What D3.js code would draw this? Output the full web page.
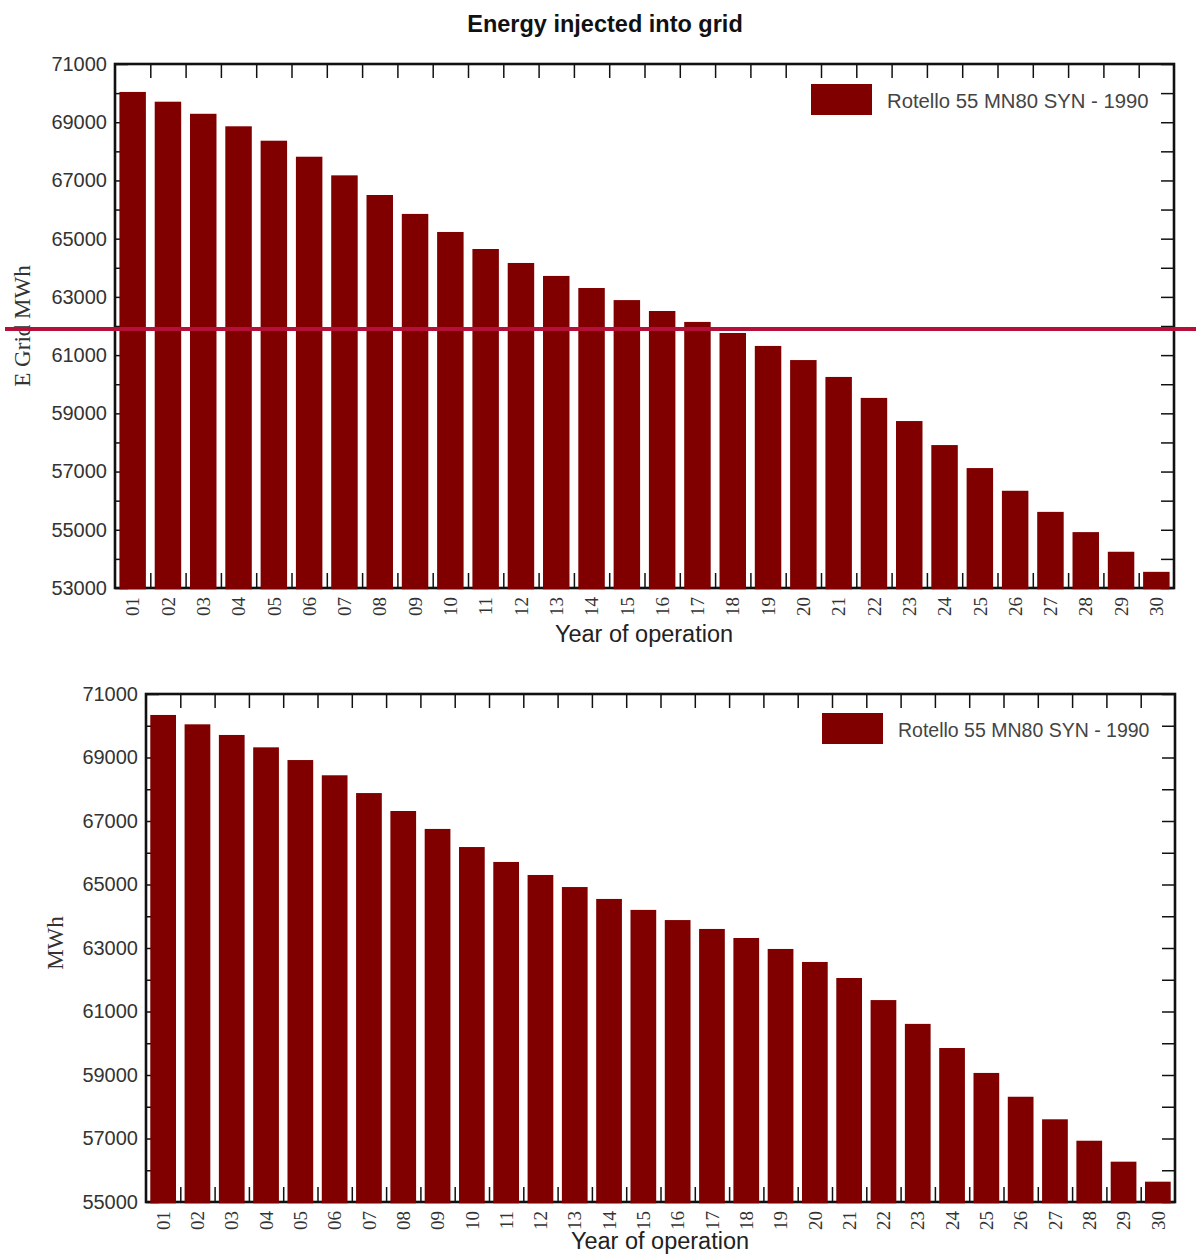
<!DOCTYPE html>
<html>
<head>
<meta charset="utf-8">
<script src="https://cdn.jsdelivr.net/npm/d3@7"></script>
<style>
body { margin: 0; background: #fff; }
svg text { font-family: "Liberation Sans", Arial, sans-serif; }
</style>
</head>
<body>
<svg id="chart" width="1196" height="1256"></svg>
<script>
// years of operation
var years = ["01", "02", "03", "04", "05", "06", "07", "08", "09", "10",
             "11", "12", "13", "14", "15", "16", "17", "18", "19", "20",
             "21", "22", "23", "24", "25", "26", "27", "28", "29", "30"];

// energy injected into grid (MWh), upper chart
var gridEnergy = [70040, 69705, 69290, 68860, 68365, 67815, 67175, 66500, 65850, 65230,
                  64645, 64165, 63720, 63305, 62890, 62515, 62140, 61760, 61315, 60830,
                  60250, 59530, 58735, 57910, 57120, 56340, 55615, 54920, 54245, 53555];

// lower chart (MWh)
var lowerEnergy = [70340, 70045, 69710, 69320, 68920, 68440, 67880, 67315, 66750, 66180,
                   65710, 65300, 64920, 64545, 64200, 63880, 63600, 63315, 62970, 62560,
                   62055, 61360, 60610, 59850, 59065, 58315, 57605, 56930, 56270, 55640];

var gridTicks = [53000, 54000, 55000, 56000, 57000, 58000, 59000, 60000, 61000, 62000,
                 63000, 64000, 65000, 66000, 67000, 68000, 69000, 70000, 71000];
var lowerTicks = [55000, 56000, 57000, 58000, 59000, 60000, 61000, 62000,
                  63000, 64000, 65000, 66000, 67000, 68000, 69000, 70000, 71000];

var seriesName = "Rotello 55 MN80 SYN - 1990";
var markerValue = 61900;   // red line drawn over the upper chart

var svg = d3.select("#chart");
var barColor = "#800000";

svg.append("text")
    .attr("x", 605).attr("y", 32)
    .attr("text-anchor", "middle")
    .style("font-size", "23.5px").style("font-weight", "bold")
    .attr("fill", "#111")
    .text("Energy injected into grid");

function drawPanel(opt) {
    var g = svg.append("g");
    var x = d3.scaleBand().domain(years).range([opt.left, opt.right])
        .paddingInner(0.25).paddingOuter(0.125);
    var xe = d3.scaleLinear().domain([0, years.length]).range([opt.left, opt.right]);
    var y = d3.scaleLinear().domain([opt.ticks[0], opt.ticks[opt.ticks.length - 1]])
        .range([opt.bottom, opt.top]);
    var inner = d3.range(1, years.length);

    var left = g.append("g").attr("transform", "translate(" + opt.left + ",0)")
        .call(d3.axisLeft(y).tickValues(opt.ticks).tickSize(-13).tickPadding(8)
            .tickFormat(function(d) { return (d / 1000) % 2 ? d : ""; }));
    var right = g.append("g").attr("transform", "translate(" + opt.right + ",0)")
        .call(d3.axisRight(y).tickValues(opt.ticks).tickSize(-13).tickFormat(""));
    var top = g.append("g").attr("transform", "translate(0," + opt.top + ")")
        .call(d3.axisTop(xe).tickValues(inner).tickSize(-14).tickFormat(""));
    var bottom = g.append("g").attr("transform", "translate(0," + opt.bottom + ")")
        .call(d3.axisBottom(xe).tickValues(inner).tickSize(-15).tickFormat(""));

    [left, right, top, bottom].forEach(function(a) {
        a.select(".domain").remove();
        a.selectAll(".tick line").attr("stroke", "#111").attr("stroke-width", 1.5);
    });
    left.selectAll("text")
        .style("font-size", "20px")
        .style("font-family", "'Liberation Sans', Arial, sans-serif")
        .attr("fill", "#333");

    g.append("rect")
        .attr("x", opt.left).attr("y", opt.top)
        .attr("width", opt.right - opt.left).attr("height", opt.bottom - opt.top)
        .attr("fill", "none").attr("stroke", "#111").attr("stroke-width", 2.6);

    var data = years.map(function(yr, i) { return { year: yr, value: opt.values[i] }; });
    g.selectAll(".bar").data(data).enter().append("rect")
        .attr("class", "bar")
        .attr("x", function(d) { return x(d.year); })
        .attr("width", x.bandwidth())
        .attr("y", function(d) { return y(d.value); })
        .attr("height", function(d) { return y.range()[0] - y(d.value) + 1.3; })
        .attr("fill", barColor);

    var labels = g.append("g").attr("transform", "translate(0," + opt.bottom + ")")
        .call(d3.axisBottom(x).tickSize(0).tickPadding(0));
    labels.select(".domain").remove();
    labels.selectAll("text")
        .attr("transform", "rotate(-90)")
        .attr("x", -9).attr("y", 0).attr("dy", "0.35em")
        .attr("text-anchor", "end")
        .style("font-family", "'Liberation Serif', 'Times New Roman', serif")
        .style("font-size", "19px")
        .attr("fill", "#333");

    g.append("text")
        .attr("transform", "translate(" + opt.yLabelX + "," + opt.yLabelY + ") rotate(-90)")
        .attr("text-anchor", "middle")
        .style("font-family", "'Liberation Serif', 'Times New Roman', serif")
        .style("font-size", "23px")
        .attr("fill", "#333")
        .text(opt.yLabel);

    g.append("text")
        .attr("x", opt.xLabelX).attr("y", opt.xLabelY)
        .attr("text-anchor", "middle")
        .style("font-size", "23.5px")
        .attr("fill", "#222")
        .text("Year of operation");

    g.append("rect")
        .attr("x", opt.legendX).attr("y", opt.legendY)
        .attr("width", 61).attr("height", 31)
        .attr("fill", barColor);
    g.append("text")
        .attr("x", opt.legendX + 76).attr("y", opt.legendY + 24)
        .style("font-size", opt.legendFont)
        .attr("fill", "#444")
        .text(seriesName);

    return y;
}

var yTop = drawPanel({
    values: gridEnergy, ticks: gridTicks,
    left: 115, right: 1174, top: 64, bottom: 588,
    yLabel: "E Grid MWh", yLabelX: 30, yLabelY: 326,
    xLabelX: 644, xLabelY: 642,
    legendX: 811, legendY: 84, legendFont: "20.3px"
});

drawPanel({
    values: lowerEnergy, ticks: lowerTicks,
    left: 146, right: 1175, top: 694, bottom: 1202,
    yLabel: "MWh", yLabelX: 63, yLabelY: 943,
    xLabelX: 660, xLabelY: 1249,
    legendX: 822, legendY: 713, legendFont: "19.5px"
});

// red marker line across the upper chart
svg.append("line")
    .attr("x1", 5).attr("x2", 1196)
    .attr("y1", yTop(markerValue)).attr("y2", yTop(markerValue))
    .attr("stroke", "#b5103a").attr("stroke-width", 4);
</script>
</body>
</html>
